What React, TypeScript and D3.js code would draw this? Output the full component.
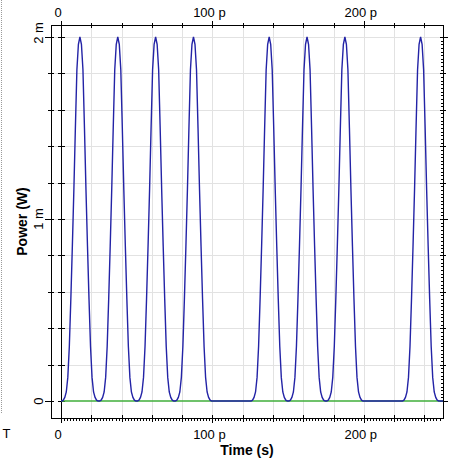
import React from "react";
import * as d3 from "d3";

// ---- data ----
const pulseCenters = [12.5, 37.5, 62.5, 87.5, 137.5, 162.5, 187.5, 237.5]; // ps
const profileOffsets = [0, 1, 2, 3, 4, 5, 6, 7, 8, 9, 10, 11, 12]; // ps from pulse center
const profilePower = [2.0, 1.96, 1.82, 1.5, 1.16, 0.85, 0.56, 0.3, 0.13, 0.05, 0.02, 0.005, 0]; // mW
const xTickMajor = [0, 100, 200];
const xTickLabels = ["0", "100 p", "200 p"];
const yTickMajor = [0, 1, 2];
const yTickLabels = ["0", "1 m", "2 m"];
const timeEnd = 252.3;

const W = 454;
const H = 464;

export default function App() {
  const x = d3.scaleLinear().domain([-6.6, timeEnd]).range([51, 443]);
  const y = d3.scaleLinear().domain([-0.093, 2.066]).range([418, 25]);
  const left = x(-6.6), right = x(timeEnd), top = y(2.066), bottom = y(-0.093);

  const pts: [number, number][] = [[0, 0]];
  pulseCenters.forEach((c) => {
    for (let i = profileOffsets.length - 1; i >= 0; i--) pts.push([c - profileOffsets[i], profilePower[i]]);
    for (let i = 1; i < profileOffsets.length; i++) pts.push([c + profileOffsets[i], profilePower[i]]);
  });
  pts.push([timeEnd, 0]);
  const line = d3.line<[number, number]>().x((d) => x(d[0])).y((d) => y(d[1]));

  const xGrid = d3.range(20, 241, 20);
  const yGrid = d3.range(1, 11).map((i) => i * 0.2);
  const xMinor = d3.range(0, 251, 2);
  const yMinor = d3.range(0, 101).map((i) => i * 0.02);
  const yTicks = d3.range(0, 11).map((i) => i * 0.2);
  const font = "'Liberation Sans', Arial, sans-serif";

  return (
    <svg width={W} height={H} style={{ position: "absolute", left: 0, top: 0, background: "#fff" }} fontFamily={font}>
      <rect x={0} y={0} width={W} height={H} fill="#fff" />
      {/* dotted left border */}
      <line x1={1.5} x2={1.5} y1={0} y2={413} stroke="#9a9a9a" strokeDasharray="1 1" />
      {/* grid */}
      {xGrid.map((t) => (
        <line key={"gx" + t} x1={Math.round(x(t)) + 0.5} x2={Math.round(x(t)) + 0.5} y1={top} y2={bottom} stroke="#e2e2e2" />
      ))}
      {yGrid.map((v) => (
        <line key={"gy" + v} x1={left} x2={right} y1={Math.round(y(v)) + 0.5} y2={Math.round(y(v)) + 0.5} stroke="#e2e2e2" />
      ))}
      {/* frame */}
      <rect x={left + 0.5} y={top + 0.5} width={right - left} height={bottom - top} fill="none" stroke="#000" />
      {/* y axis line at t=0 */}
      <line x1={Math.round(x(0)) + 0.5} x2={Math.round(x(0)) + 0.5} y1={21} y2={422} stroke="#000" />
      {/* bottom minor ticks */}
      {xMinor.map((t) => (
        <line key={"bm" + t} x1={Math.round(x(t)) + 0.5} x2={Math.round(x(t)) + 0.5} y1={bottom + 1} y2={bottom + 3} stroke="#000" />
      ))}
      {/* right minor ticks */}
      {yMinor.map((v, i) => (
        <line key={"rm" + i} x1={right - 2} x2={right} y1={Math.round(y(v)) + 0.5} y2={Math.round(y(v)) + 0.5} stroke="#000" />
      ))}
      {/* x ticks every 20 ps, top and bottom */}
      {d3.range(0, 241, 20).map((t) => {
        const major = t % 100 === 0;
        const xx = Math.round(x(t)) + 0.5;
        return (
          <g key={"xt" + t}>
            <line x1={xx} x2={xx} y1={major ? 21 : 23} y2={top + 3} stroke="#000" />
            <line x1={xx} x2={xx} y1={bottom - 3} y2={major ? bottom + 5 : bottom + 4} stroke="#000" />
          </g>
        );
      })}
      {/* y ticks every 0.2 mW */}
      {yTicks.map((v, i) => {
        const major = i % 5 === 0;
        const yy = Math.round(y(v)) + 0.5;
        return (
          <g key={"yt" + i}>
            <line x1={major ? left - 6 : left - 3} x2={left + 3} y1={yy} y2={yy} stroke="#000" />
            <line x1={x(0) - 3} x2={x(0) + 4} y1={yy} y2={yy} stroke="#000" />
            <line x1={right - 3} x2={major ? right + 5 : right + 3} y1={yy} y2={yy} stroke="#000" />
          </g>
        );
      })}
      {/* series */}
      <line x1={x(0)} x2={right} y1={y(0)} y2={y(0)} stroke="#3fae3a" strokeWidth={1.4} />
      <path d={line(pts) || ""} fill="none" stroke="#2323a6" strokeWidth={1.4} />
      {/* tick labels */}
      {xTickMajor.map((t, i) => (
        <g key={"xl" + t}>
          <text x={x(t) - 3} y={17} textAnchor="middle" fontSize={13}>{xTickLabels[i]}</text>
          <text x={x(t) - 3} y={439} textAnchor="middle" fontSize={13}>{xTickLabels[i]}</text>
        </g>
      ))}
      {yTickMajor.map((v, i) => (
        <text key={"yl" + v} transform={`translate(43,${y(v) - (v === 2 ? 4 : 0)}) rotate(-90)`} textAnchor="middle" fontSize={13}>
          {yTickLabels[i]}
        </text>
      ))}
      {/* axis titles */}
      <text x={(left + right) / 2} y={455} textAnchor="middle" fontSize={14} fontWeight="bold">Time (s)</text>
      <text transform={`translate(27,${(top + bottom) / 2}) rotate(-90)`} textAnchor="middle" fontSize={14} fontWeight="bold">Power (W)</text>
      <text x={2.5} y={438} fontSize={13}>T</text>
    </svg>
  );
}
